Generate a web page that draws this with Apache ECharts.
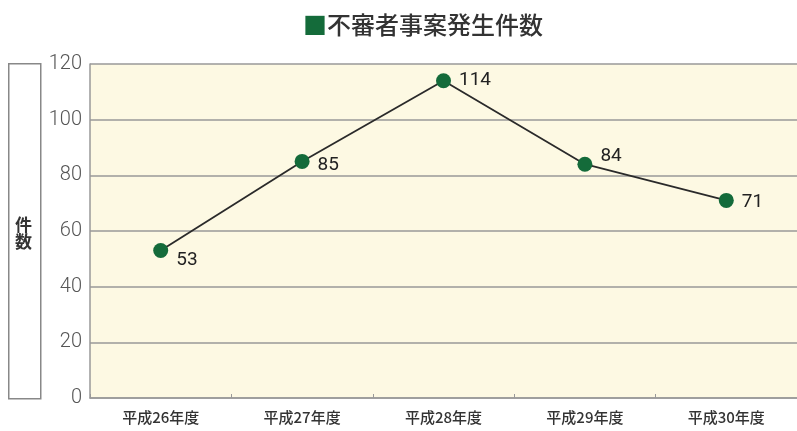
<!DOCTYPE html>
<html>
<head>
<meta charset="utf-8">
<script src="https://cdn.jsdelivr.net/npm/echarts@6/dist/echarts.min.js"></script>
<style>
  html, body { margin: 0; padding: 0; background: #fff; }
  #chart-container { width: 797px; height: 431px; }
</style>
</head>
<body>
<div id="chart-container"></div>
<script>
// 年度ごとの不審者事案発生件数
var years = ['平成26年度', '平成27年度', '平成28年度', '平成29年度', '平成30年度'];
var counts = [53, 85, 114, 84, 71];
// ラベルの上下位置（図に合わせる）
var labelOffsets = [[2, 10], [2, 4], [2, 0], [2, -8], [2, 2]];

var myChart = echarts.init(document.getElementById('chart-container'));

var option = {
  animation: false,
  title: {
    text: '{sq|■}不審者事案発生件数',
    left: 298,
    top: 8,
    textStyle: {
      fontFamily: 'Noto Sans CJK JP',
      fontSize: 24,
      fontWeight: 500,
      color: '#333',
      rich: {
        sq: { color: '#146b3a', fontSize: 24, fontFamily: 'Noto Sans CJK JP' }
      }
    }
  },
  grid: {
    left: 90,
    right: -5,
    top: 64,
    bottom: 33,
    show: true,
    backgroundColor: '#fdf9e3',
    borderWidth: 0
  },
  xAxis: {
    type: 'category',
    data: years,
    boundaryGap: true,
    axisLine: { lineStyle: { color: '#999', width: 1.5 } },
    axisTick: { show: true, length: 4, inside: true, lineStyle: { color: '#999' } },
    axisLabel: {
      margin: 12,
      fontFamily: 'Noto Sans CJK JP',
      fontSize: 15,
      fontWeight: 500,
      color: '#333'
    }
  },
  yAxis: {
    type: 'value',
    min: 0,
    max: 120,
    interval: 20,
    axisLine: { show: true, lineStyle: { color: '#999', width: 1.5 } },
    axisTick: { show: false },
    axisLabel: {
      margin: 8,
      fontFamily: 'Roboto',
      fontWeight: 300,
      fontSize: 20,
      color: '#555'
    },
    splitLine: { lineStyle: { color: '#999', width: 1.5 } }
  },
  graphic: [
    {
      type: 'rect',
      left: 8,
      top: 63,
      shape: { width: 32, height: 335 },
      style: { fill: '#fff', stroke: '#888', lineWidth: 1.5 }
    },
    {
      type: 'text',
      left: 15,
      top: 216,
      style: {
        text: '件\n数',
        fontFamily: 'Noto Sans CJK JP',
        fontSize: 17,
        lineHeight: 17,
        fontWeight: 'bold',
        fill: '#333'
      }
    }
  ],
  series: [
    {
      name: '不審者事案発生件数',
      type: 'line',
      data: counts.map(function (v, i) {
        return { value: v, label: { offset: labelOffsets[i] } };
      }),
      symbol: 'circle',
      symbolSize: 15,
      itemStyle: { color: '#146b3a' },
      lineStyle: { color: '#2a2a2a', width: 1.8 },
      label: {
        show: true,
        position: 'right',
        distance: 6,
        fontFamily: 'Roboto',
        fontSize: 19,
        color: '#222'
      }
    }
  ]
};

myChart.setOption(option);
</script>
</body>
</html>
